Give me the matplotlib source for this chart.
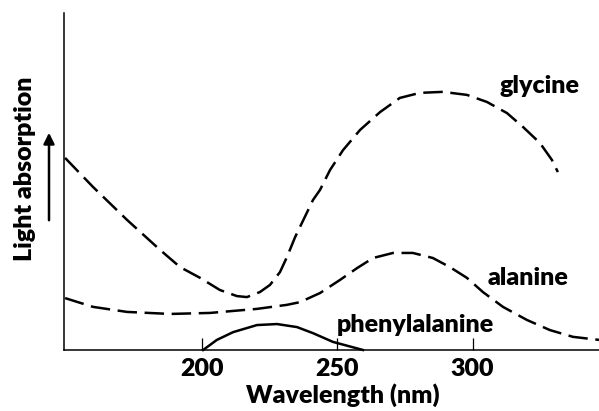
import numpy as np
import matplotlib
matplotlib.use("Agg")
import matplotlib.pyplot as plt

# wavelength (nm) / relative absorption
gly_nm = [149.4, 159.7, 172.3, 184.5, 191.9, 199.3, 206.6, 212.9, 216.6, 221.4,
          225.1, 228.8, 231.4, 234.4, 238.0, 241.0, 243.6, 247.3, 252.1, 258.4,
          265.8, 273.1, 280.5, 289.0, 297.9, 305.3, 312.7, 318.6, 324.9, 329.3, 331.5]
gly_abs = [57.0, 48.4, 38.6, 29.7, 24.6, 21.4, 17.8, 16.0, 15.7, 17.2,
           19.3, 23.1, 27.6, 33.5, 39.5, 44.5, 47.5, 53.4, 59.3, 65.3,
           70.6, 74.8, 76.3, 76.6, 75.7, 73.6, 70.3, 66.2, 61.4, 56.4, 52.8]

ala_nm = [149.4, 159.7, 172.3, 188.2, 203.0, 220.3, 231.4, 236.2, 243.6, 251.0,
          257.3, 263.2, 270.6, 277.9, 285.3, 291.6, 297.9, 303.8, 311.2, 320.1,
          328.6, 337.1, 346.7]
ala_abs = [15.4, 12.8, 11.3, 10.7, 11.0, 12.2, 13.4, 14.2, 16.9, 20.8,
           24.3, 27.3, 28.8, 28.8, 27.3, 24.6, 21.4, 17.2, 12.8, 8.9,
           5.9, 3.9, 3.0]

phe_nm = [200.4, 205.5, 211.5, 220.3, 227.7, 235.1, 241.0, 248.4, 259.5]
phe_abs = [0.0, 3.0, 5.3, 7.4, 7.7, 6.8, 5.0, 2.4, 0.0]

xticks = [200, 250, 300]

plt.rcParams['font.family'] = ['Lato', 'DejaVu Sans']
plt.rcParams['lines.scale_dashes'] = False

fig = plt.figure(figsize=(5.99, 4.11), dpi=100)
ax = fig.add_axes([64 / 599, 61 / 411, 1 - 64 / 599, (350 - 13) / 411])

dash = (0, (14, 5.5))
ax.plot(gly_nm, gly_abs, color='black', lw=1.8, linestyle=dash)
ax.plot(ala_nm, ala_abs, color='black', lw=1.8, linestyle=dash)
ax.plot(phe_nm, phe_abs, color='black', lw=1.8, clip_on=False)

ax.set_xlim(149.0, 346.7)
ax.set_ylim(0, 100)

for s in ['top', 'right']:
    ax.spines[s].set_visible(False)
for s in ['left', 'bottom']:
    ax.spines[s].set_linewidth(1.1)

fs = 18
wt = 'heavy'
ax.set_xticks(xticks)
ax.set_xticklabels([str(t) for t in xticks], fontsize=fs, fontweight=wt)
ax.tick_params(axis='x', direction='in', length=9, width=0.9, pad=6)
ax.set_yticks([])

# curve labels
ax.text(310.1, 76.3, 'glycine', fontsize=fs, fontweight=wt, va='baseline')
ax.text(305.7, 19.3, 'alanine', fontsize=fs, fontweight=wt, va='baseline')
ax.text(249.9, 5.3, 'phenylalanine', fontsize=fs, fontweight=wt, va='baseline')

fig.text(343 / 599, 16 / 411, 'Wavelength (nm)', fontsize=fs, fontweight=wt,
         ha='center', va='center')
fig.text(25 / 599, 242 / 411, 'Light absorption', fontsize=fs, fontweight=wt,
         ha='center', va='center', rotation=90)

# arrow next to the y label
ax.annotate('', xy=(49, 281), xycoords='figure pixels',
            xytext=(49, 188), textcoords='figure pixels',
            arrowprops=dict(arrowstyle='-|>', color='black', lw=1.8,
                            mutation_scale=16))

fig.savefig('out.png', dpi=100)
